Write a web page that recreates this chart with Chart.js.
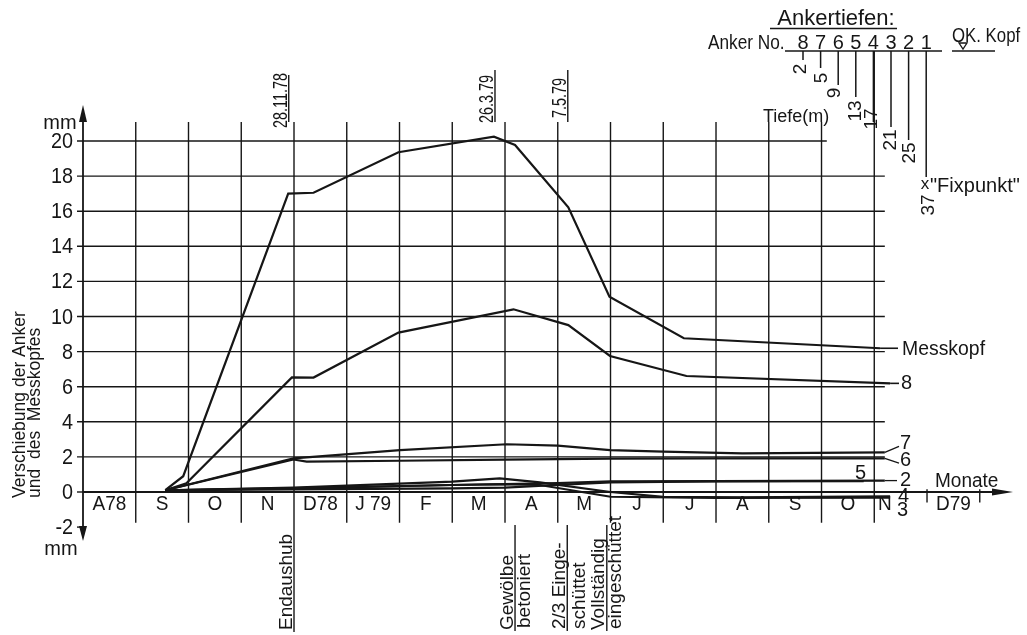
<!DOCTYPE html>
<html><head><meta charset="utf-8">
<script src="https://cdn.jsdelivr.net/npm/chart.js@4.4.1/dist/chart.umd.min.js"></script>
<style>html,body{margin:0;padding:0;background:#fff;}canvas{display:block;}</style>
</head><body>
<canvas id="c" width="1027" height="635"></canvas>
<script>
// ---- data (x = months counted from 1 Aug 1978) ----
const monthLabels = ['A78','S','O','N','D78','J 79','F','M','A','M','J','J','A','S','O','N','D79'];
const yTickValues = [-2,0,2,4,6,8,10,12,14,16,18,20];

const messkopfX = [1.56,1.9,3.89,4.37,5.98,7.79,8.19,9.2,9.98,11.39,15.11];
const messkopfY = [0.1,0.9,17.0,17.05,19.36,20.25,19.77,16.22,11.13,8.76,8.19];
const anker8X = [1.56,1.96,3.96,4.37,5.98,8.16,9.2,9.99,11.44,15.3];
const anker8Y = [0.1,0.49,6.53,6.52,9.08,10.41,9.51,7.75,6.61,6.19];
const anker7X = [1.56,3.99,6.01,8.03,9.0,9.99,11.0,12.5,15.2];
const anker7Y = [0.1,1.92,2.39,2.72,2.64,2.39,2.3,2.2,2.26];
const anker6X = [1.56,3.99,4.24,6.0,8.0,10.0,12.0,15.2];
const anker6Y = [0.1,1.85,1.73,1.78,1.85,1.9,1.92,1.92];
const anker5X = [1.56,4.0,7.0,8.0,9.0,10.0,12.0,14.8];
const anker5Y = [0.1,0.15,0.21,0.25,0.4,0.55,0.6,0.62];
const anker2X = [1.56,4.0,7.0,8.0,9.0,10.0,12.0,15.2];
const anker2Y = [0.1,0.22,0.4,0.45,0.5,0.6,0.62,0.65];
const anker4X = [1.56,4.0,7.0,7.9,8.66,10.0,11.0,12.5,15.3];
const anker4Y = [0.1,0.25,0.59,0.78,0.55,0.0,-0.28,-0.3,-0.25];
const anker3X = [1.56,4.0,7.0,7.85,8.66,10.0,12.0,15.3];
const anker3Y = [0.1,0.2,0.4,0.44,0.4,-0.27,-0.33,-0.32];

const dateLabels = ['28.11.78','26.3.79','7.5.79'];
const dateMonths = [3.9, 7.81, 9.19];
const anchorNos = [8,7,6,5,4,3,2,1];
const anchorDepths = [2,5,9,13,17,21,25,37];

// ---- styling ----
const FONT = "'Liberation Sans', Arial, sans-serif";
const INK = '#161616';

const pts = (xs, ys) => xs.map((x, i) => ({x: x, y: ys[i]}));
const seriesDefs = [
  ['Messkopf', messkopfX, messkopfY],
  ['8', anker8X, anker8Y],
  ['7', anker7X, anker7Y],
  ['6', anker6X, anker6Y],
  ['5', anker5X, anker5Y],
  ['2', anker2X, anker2Y],
  ['4', anker4X, anker4Y],
  ['3', anker3X, anker3Y]
];

function ln(ctx, x1, y1, x2, y2, w) {
  ctx.lineWidth = w; ctx.beginPath(); ctx.moveTo(x1, y1); ctx.lineTo(x2, y2); ctx.stroke();
}
// text with optional horizontal condensing (sx)
function tx(ctx, s, x, y, size, align, base, sx) {
  ctx.save(); ctx.translate(x, y); ctx.scale(sx || 1, 1);
  ctx.font = size + 'px ' + FONT; ctx.textAlign = align || 'left'; ctx.textBaseline = base || 'alphabetic';
  ctx.fillText(s, 0, 0); ctx.restore();
}
function rtx(ctx, s, x, y, size, align, base, sx) {
  ctx.save(); ctx.translate(x, y); ctx.rotate(-Math.PI / 2); ctx.scale(sx || 1, 1);
  ctx.font = size + 'px ' + FONT; ctx.textAlign = align || 'left'; ctx.textBaseline = base || 'alphabetic';
  ctx.fillText(s, 0, 0); ctx.restore();
}
function poly(ctx, p, fill) {
  ctx.beginPath(); ctx.moveTo(p[0][0], p[0][1]);
  for (let i = 1; i < p.length; i++) ctx.lineTo(p[i][0], p[i][1]);
  ctx.closePath(); if (fill) ctx.fill(); else { ctx.lineWidth = 1.3; ctx.stroke(); }
}

const drawing = {
  id: 'drawing',
  beforeDatasetsDraw(chart) {
    const ctx = chart.ctx, X = chart.scales.x, Y = chart.scales.y;
    const px = v => X.getPixelForValue(v), py = v => Y.getPixelForValue(v);
    ctx.save(); ctx.strokeStyle = INK; ctx.fillStyle = INK;
    const gridTop = py(21.08), rowBottom = py(-1.75);
    yTickValues.forEach(v => {
      let right = px(15.2);
      if (v === 20) right = px(14.1);
      if (v <= 0) right = px(0);
      ln(ctx, px(0) - 6, py(v), right, py(v), 1.4);
    });
    for (let m = 1; m <= 15; m++) {
      const top = m === 15 ? 51 : gridTop;
      const bottom = (m === 4) ? 632 : rowBottom;
      ln(ctx, px(m), top, px(m), bottom, 1.4);
    }
    for (let m = 16; m <= 17; m++) ln(ctx, px(m), py(0.15), px(m), py(-0.6), 1.4);
    const ax = px(0);
    ln(ctx, ax, py(21.5), ax, py(-2.3), 1.8);
    poly(ctx, [[ax, 105], [ax - 4, 122], [ax + 4, 122]], true);
    poly(ctx, [[ax, 541], [ax - 4, 526], [ax + 4, 526]], true);
    ln(ctx, ax, py(0), 995, py(0), 1.8);
    poly(ctx, [[1013, py(0)], [992, py(0) - 3.5], [992, py(0) + 3.5]], true);
    dateMonths.forEach((m, i) => ln(ctx, px(m), i === 0 ? 75 : 70, px(m), gridTop, 1.4));
    [8.19, 9.18, 9.93].forEach(m => ln(ctx, px(m), 525, px(m), 631, 1.4));
    ctx.restore();
  },
  afterDatasetsDraw(chart) {
    const ctx = chart.ctx, X = chart.scales.x, Y = chart.scales.y;
    const px = v => X.getPixelForValue(v), py = v => Y.getPixelForValue(v);
    ctx.save(); ctx.strokeStyle = INK; ctx.fillStyle = INK;
    // y tick labels
    yTickValues.forEach(v => tx(ctx, String(v), 73, py(v) + 1, 22, 'right', 'middle', 0.9));
    tx(ctx, 'mm', 60, 123, 20, 'center', 'middle');
    tx(ctx, 'mm', 61, 549, 20, 'center', 'middle');
    // y title
    rtx(ctx, 'Verschiebung der Anker', 25, 498, 17.5, 'left', 'alphabetic');
    rtx(ctx, 'und  des  Messkopfes', 40, 498, 17.5, 'left', 'alphabetic');
    // month labels
    monthLabels.forEach((s, i) => {
      let c = px(i + 0.5);
      if (i === 15) c = px(15.2);
      tx(ctx, s, c, py(-0.74), 20, 'center', 'middle', 0.95);
    });
    tx(ctx, 'Monate', 935, 487, 20, 'left', 'alphabetic', 0.95);
    // curve labels
    const L = 20;
    tx(ctx, 'Messkopf', 902, py(8.1), L, 'left', 'middle', 0.97);
    ln(ctx, px(15.11), py(8.19), 898, py(8.19), 1.6);
    tx(ctx, '8', 901, py(6.21), L, 'left', 'middle');
    ln(ctx, px(15.3), py(6.19), 899, py(6.19), 1.6);
    tx(ctx, '7', 900, py(2.74), L, 'left', 'middle');
    ln(ctx, px(15.2), py(2.26), 899, py(2.6), 1.3);
    tx(ctx, '6', 900, py(1.77), L, 'left', 'middle');
    ln(ctx, px(15.2), py(1.92), 899, py(1.65), 1.3);
    tx(ctx, '5', 855, py(1.03), L, 'left', 'middle');
    tx(ctx, '2', 900, py(0.68), L, 'left', 'middle');
    ln(ctx, px(15.2), py(0.65), 897, py(0.65), 1.3);
    tx(ctx, '4', 898, py(-0.28), L, 'left', 'middle');
    tx(ctx, '3', 897, py(-1.03), L, 'left', 'middle');
    // dates (top)
    const dBottoms = [128, 123, 118];
    dateLabels.forEach((s, i) => rtx(ctx, s, px(dateMonths[i]) - 2, dBottoms[i], 20, 'left', 'alphabetic', 0.72));
    // events (bottom)
    const E = 19;
    rtx(ctx, 'Endaushub', px(4) - 2, 630, E, 'left');
    rtx(ctx, 'Gewölbe', 513, 630, E, 'left');
    rtx(ctx, 'betoniert', 530, 628, E, 'left');
    rtx(ctx, '2/3 Einge-', 565, 629, E, 'left');
    rtx(ctx, 'schüttet', 585, 629, E, 'left');
    rtx(ctx, 'Vollständig', 604, 630, E, 'left');
    rtx(ctx, 'eingeschüttet', 621, 629, E, 'left');
    // anchor depth diagram (top right)
    tx(ctx, 'Ankertiefen:', 836, 25, 22, 'center', 'alphabetic');
    ln(ctx, 770, 28.5, 897, 28.5, 1.5);
    tx(ctx, 'Anker No.', 708, 49, 21, 'left', 'alphabetic', 0.82);
    ln(ctx, 785, 51, 942, 51, 1.5);
    const lineEnds = [60, 68, 85, 97, 122, 127, 140, 177];
    const lblX = [801, 822, 835, 856, 872, 891, 910, 929];
    const lblY = [69, 78, 93, 111, 119, 140, 153, 205];
    anchorNos.forEach((n, i) => {
      const x = 803 + i * 17.6;
      tx(ctx, String(n), x, 49, 20, 'center', 'alphabetic');
      ln(ctx, x, 51, x, lineEnds[i], 1.5);
      rtx(ctx, String(anchorDepths[i]), lblX[i], lblY[i], 19, 'center', 'middle');
    });
    tx(ctx, 'x', 925, 184, 17, 'center', 'middle');
    tx(ctx, '"Fixpunkt"', 930, 192, 20, 'left', 'alphabetic');
    tx(ctx, 'OK. Kopf', 952, 42, 21, 'left', 'alphabetic', 0.8);
    poly(ctx, [[959, 43], [967, 43], [963, 49]], false);
    ln(ctx, 952, 51, 995, 51, 1.5);
    tx(ctx, 'Tiefe(m)', 763, 122, 18, 'left', 'alphabetic');
    ctx.restore();
  }
};

new Chart(document.getElementById('c'), {
  type: 'line',
  data: {
    datasets: seriesDefs.map(d => ({
      label: d[0], data: pts(d[1], d[2]),
      borderColor: INK, borderWidth: 2.2, pointRadius: 0, tension: 0, fill: false, clip: false
    }))
  },
  options: {
    responsive: false, animation: false, devicePixelRatio: 1,
    layout: {padding: {left: 83, right: 14, top: 103, bottom: 81}},
    plugins: {legend: {display: false}, tooltip: {enabled: false}, title: {display: false}},
    scales: {
      x: {type: 'linear', min: 0, max: 17.63, display: false},
      y: {type: 'linear', min: -3.533, max: 22.165, display: false}
    }
  },
  plugins: [drawing]
});
</script>
</body></html>
